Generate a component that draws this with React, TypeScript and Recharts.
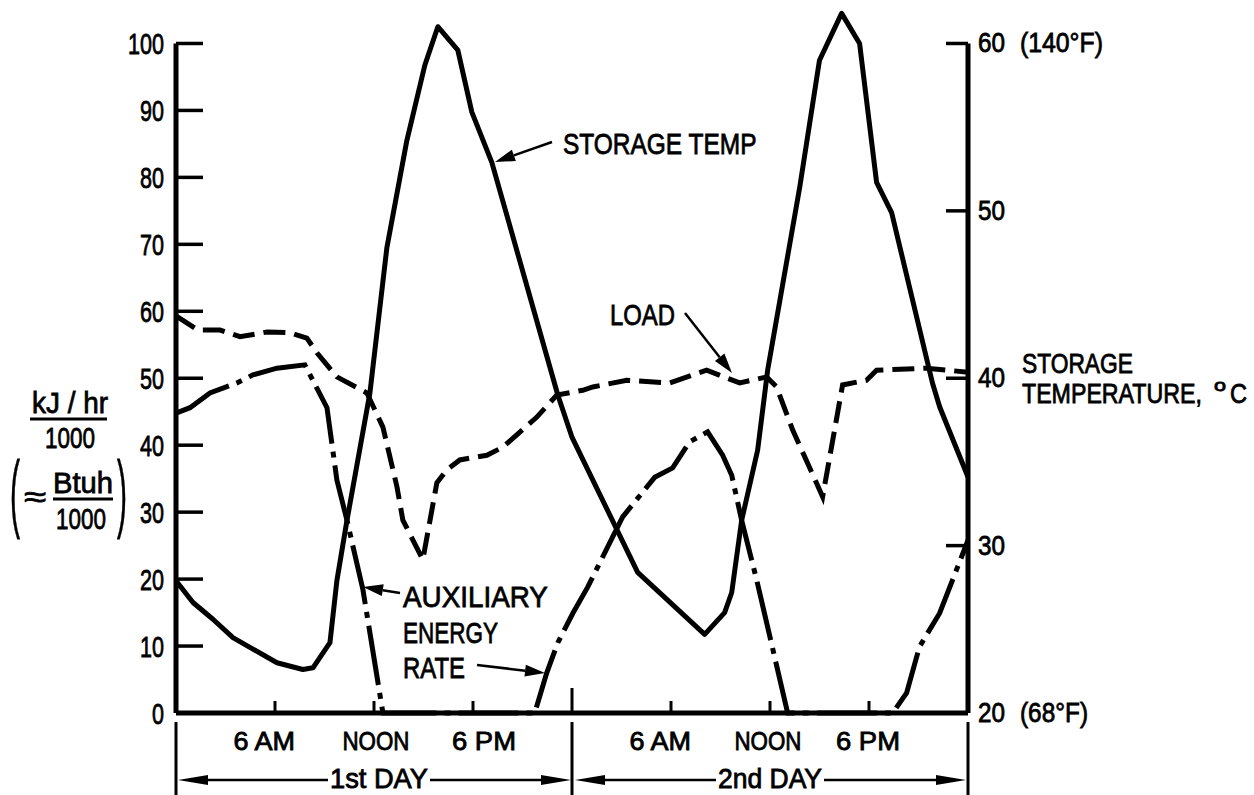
import React from 'react'
import { LineChart, Line, XAxis, YAxis, ReferenceLine } from 'recharts'

const W = 1254
const H = 795
const FONT = '"Liberation Sans", Arial, sans-serif'

// hours counted from midnight at the start of the 1st day
const storageHours = [0, 1.03, 2.24, 3.45, 6.12, 7.69, 8.3, 9.33, 9.75, 10.36, 11.75, 12.78, 13.99, 15.08, 15.87, 17.08, 17.93, 19.14, 23.14, 23.99, 27.98, 32.04, 33.25, 33.68, 34.28, 35.25, 35.86, 37.8, 39.0, 40.34, 41.43, 42.46, 43.37, 45.85, 46.28, 48]
const storageTemp = [27.9, 26.6, 25.6, 24.5, 23.0, 22.6, 22.7, 24.2, 27.9, 31.5, 39.1, 47.8, 54.2, 58.7, 61.0, 59.6, 55.9, 52.9, 39.0, 36.5, 28.4, 24.7, 26.0, 27.2, 31.5, 35.7, 40.5, 51.4, 59.0, 61.8, 60.0, 51.7, 49.9, 39.7, 38.3, 34.1]

const loadHours = [0, 1.33, 2.67, 3.88, 5.51, 6.9, 7.93, 8.54, 9.75, 11.57, 12.54, 13.39, 13.75, 14.96, 15.81, 16.41, 17.2, 18.84, 19.81, 21.87, 23.08, 24.65, 25.26, 27.32, 29.92, 32.16, 34.16, 35.8, 36.4, 37.37, 39.19, 40.4, 41.85, 42.46, 45.49, 48]
const loadValues = [59.3, 57.2, 57.2, 56.2, 56.9, 56.8, 56.0, 53.8, 50.2, 47.8, 42.7, 33.8, 28.8, 22.9, 34.4, 36.3, 37.8, 38.5, 39.7, 44.2, 47.5, 48.2, 48.7, 49.7, 49.3, 51.2, 49.3, 50.2, 48.7, 42.3, 32.3, 49.0, 49.7, 51.2, 51.5, 50.9]

const auxHours = [0, 0.85, 2.06, 3.69, 4.66, 6.12, 7.81, 9.15, 9.75, 10.36, 11.33, 12.54, 21.74, 22.47, 23.14, 24.05, 24.95, 27.07, 29.01, 30.1, 31.13, 32.22, 33.13, 33.68, 34.28, 35.19, 37.07, 43.43, 44.28, 45.06, 46.28, 48]
const auxValues = [44.8, 45.6, 47.8, 49.3, 50.5, 51.5, 52.0, 45.6, 34.8, 28.8, 18.4, 0, 0, 6.0, 10.5, 14.9, 18.8, 29.3, 35.2, 36.6, 40.5, 42.0, 38.5, 35.5, 28.8, 19.9, 0, 0, 3.0, 9.9, 14.9, 25.8]

const hourTicks = [0, 6, 12, 18, 24, 30, 36, 42, 48]
const hourLabels: Record<number, string> = { 6: '6 AM', 12: 'NOON', 18: '6 PM', 30: '6 AM', 36: 'NOON', 42: '6 PM' }
const leftTicks = [0, 10, 20, 30, 40, 50, 60, 70, 80, 90, 100]
const rightTicks = [20, 30, 40, 50, 60]
const rightExtra: Record<number, string> = { 60: '(140°F)', 20: '(68°F)' }

const storageData = storageHours.map((h, i) => ({ h, v: storageTemp[i] }))
const loadData = loadHours.map((h, i) => ({ h, v: loadValues[i] }))
const auxData = auxHours.map((h, i) => ({ h, v: auxValues[i] }))

let ctx: CanvasRenderingContext2D | null = null
function measure(text: string, size: number) {
  if (!ctx) ctx = document.createElement('canvas').getContext('2d')
  if (!ctx) return text.length * size * 0.6
  ctx.font = `${size}px ${FONT}`
  return ctx.measureText(text).width || text.length * size * 0.6
}

// lettering on the drawing is narrow, so squeeze each text to its measured width
function Txt({ x, y, w, size = 30, children }: any) {
  const sx = w / measure(String(children), size)
  return (
    <text
      transform={`translate(${x} ${y}) scale(${sx.toFixed(3)} 1)`}
      fontSize={size}
      fontFamily={FONT}
      fill="#000"
      stroke="#000"
      strokeWidth={0.8}
    >
      {children}
    </text>
  )
}

function Arrow({ x1, y1, x2, y2, head = 20, half = 6, sw = 2.5 }: any) {
  const len = Math.hypot(x2 - x1, y2 - y1)
  const dx = (x2 - x1) / len
  const dy = (y2 - y1) / len
  const bx = x2 - dx * head
  const by = y2 - dy * head
  const pts = `${x2},${y2} ${bx - dy * half},${by + dx * half} ${bx + dy * half},${by - dx * half}`
  return (
    <g>
      <line x1={x1} y1={y1} x2={bx} y2={by} stroke="#000" strokeWidth={sw} />
      <polygon points={pts} fill="#000" />
    </g>
  )
}

function LeftTick({ x, y, payload }: any) {
  const s = String(payload.value)
  const w = s.length * 12
  return (
    <g>
      <line x1={x} x2={x + 27} y1={y} y2={y} stroke="#000" strokeWidth={3.5} />
      <Txt x={x - 12 - w} y={y + 11} w={w} size={30}>{s}</Txt>
    </g>
  )
}

function RightTick({ x, y, payload }: any) {
  const v = payload.value
  const s = String(v)
  return (
    <g>
      <line x1={x} x2={x - 22} y1={y} y2={y} stroke="#000" strokeWidth={3.5} />
      <Txt x={x + 10} y={y + 9} w={27} size={28}>{s}</Txt>
      {rightExtra[v] && (
        <Txt x={x + 52} y={y + 9} w={v === 60 ? 83 : 68} size={28}>{rightExtra[v]}</Txt>
      )}
    </g>
  )
}

const labelShift: Record<number, number> = { 6: -10, 12: 2, 18: 11, 30: -10, 36: -2, 42: -1 }
const labelWidth: Record<string, number> = { '6 AM': 63, NOON: 67, '6 PM': 64 }

function HourTick({ x, y, payload }: any) {
  const h = payload.value
  if (h % 24 === 0) {
    return (
      <g>
        {h === 24 && <line x1={x} x2={x} y1={y} y2={y - 25} stroke="#000" strokeWidth={3} />}
        <line x1={x} x2={x} y1={y + 9} y2={y + 82} stroke="#000" strokeWidth={3} />
      </g>
    )
  }
  const lab = hourLabels[h]
  const w = labelWidth[lab]
  return (
    <g>
      <line x1={x} x2={x} y1={y} y2={y - 12} stroke="#000" strokeWidth={3} />
      <Txt x={x + labelShift[h] - w / 2} y={y + 37} w={w} size={25}>{lab}</Txt>
    </g>
  )
}

function Notes() {
  return (
    <svg width={W} height={H} style={{ position: 'absolute', left: 0, top: 0, pointerEvents: 'none' }}>
      {/* left axis title */}
      <Txt x={32} y={413} w={76}>kJ / hr</Txt>
      <line x1={30} x2={107} y1={419} y2={419} stroke="#000" strokeWidth={3} />
      <Txt x={45} y={448} w={50}>1000</Txt>
      <Txt x={10} y={521} w={10} size={86}>(</Txt>
      <Txt x={24} y={507} w={22}>≈</Txt>
      <Txt x={53} y={493} w={60}>Btuh</Txt>
      <line x1={53} x2={113} y1={499} y2={499} stroke="#000" strokeWidth={3} />
      <Txt x={56} y={529} w={50}>1000</Txt>
      <Txt x={117} y={521} w={10} size={86}>)</Txt>

      {/* right axis title */}
      <Txt x={1022} y={373} w={111} size={27}>STORAGE</Txt>
      <Txt x={1022} y={403} w={180} size={27}>TEMPERATURE,</Txt>
      <Txt x={1214} y={391} w={12} size={16}>o</Txt>
      <Txt x={1230} y={403} w={17} size={27}>C</Txt>

      {/* curve notes */}
      <Txt x={563} y={154} w={194}>STORAGE TEMP</Txt>
      <Arrow x1={552} y1={142} x2={495} y2={162} />
      <Txt x={610} y={325} w={65}>LOAD</Txt>
      <Arrow x1={685} y1={313} x2={732} y2={373} />
      <Txt x={403} y={607} w={145}>AUXILIARY</Txt>
      <Txt x={403} y={643} w={95}>ENERGY</Txt>
      <Txt x={403} y={678} w={62}>RATE</Txt>
      <Arrow x1={400} y1={593} x2={363} y2={587} />
      <Arrow x1={477} y1={665} x2={545} y2={673} />

      {/* day spans */}
      <Txt x={330} y={788} w={98} size={27}>1st DAY</Txt>
      <Arrow x1={328} y1={780} x2={178} y2={780} head={30} half={5} />
      <Arrow x1={430} y1={780} x2={571} y2={780} head={30} half={5} />
      <Txt x={718} y={788} w={104} size={27}>2nd DAY</Txt>
      <Arrow x1={716} y1={780} x2={575} y2={780} head={30} half={5} />
      <Arrow x1={824} y1={780} x2={966} y2={780} head={30} half={5} />
    </svg>
  )
}

export default function App() {
  return (
    <div style={{ position: 'absolute', left: 0, top: 0, width: W, height: H, background: '#fff' }}>
      <LineChart width={W} height={H} margin={{ top: 10, right: 0, bottom: 0, left: 0 }}>
        <XAxis
          dataKey="h"
          type="number"
          domain={[0, 48]}
          ticks={hourTicks}
          interval={0}
          height={82}
          tickSize={0}
          tickMargin={0}
          tickLine={false}
          axisLine={{ stroke: '#000', strokeWidth: 5 }}
          tick={<HourTick />}
        />
        <YAxis
          yAxisId="left"
          type="number"
          domain={[0, 105]}
          ticks={leftTicks}
          interval={0}
          width={176}
          tickSize={0}
          tickMargin={0}
          tickLine={false}
          axisLine={false}
          tick={<LeftTick />}
        />
        <YAxis
          yAxisId="right"
          orientation="right"
          type="number"
          domain={[20, 62]}
          ticks={rightTicks}
          interval={0}
          width={286}
          tickSize={0}
          tickMargin={0}
          tickLine={false}
          axisLine={false}
          tick={<RightTick />}
        />
        <ReferenceLine yAxisId="left" ifOverflow="visible" segment={[{ x: 0, y: 0 }, { x: 0, y: 100 }]} stroke="#000" strokeWidth={5} />
        <ReferenceLine yAxisId="right" ifOverflow="visible" segment={[{ x: 48, y: 20 }, { x: 48, y: 60 }]} stroke="#000" strokeWidth={5} />
        <Line yAxisId="left" data={loadData} dataKey="v" type="linear" stroke="#000" strokeWidth={5} strokeDasharray="22 9" dot={false} activeDot={false} isAnimationActive={false} />
        <Line yAxisId="left" data={auxData} dataKey="v" type="linear" stroke="#000" strokeWidth={5} strokeDasharray="60 8 6 8" dot={false} activeDot={false} isAnimationActive={false} />
        <Line yAxisId="right" data={storageData} dataKey="v" type="linear" stroke="#000" strokeWidth={5} strokeLinejoin="round" dot={false} activeDot={false} isAnimationActive={false} />
      </LineChart>
      <Notes />
    </div>
  )
}
